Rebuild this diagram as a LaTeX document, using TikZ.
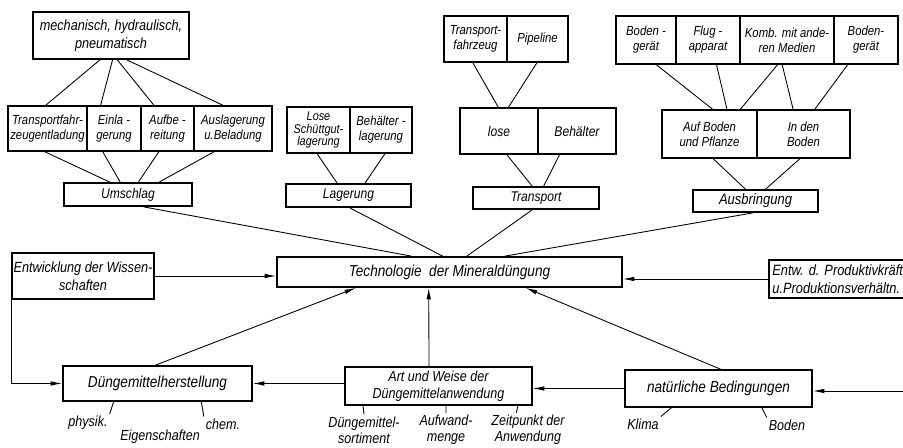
\documentclass[tikz,border=0pt]{standalone}
\usepackage{fontspec}
\setmainfont{Liberation Sans}[FakeStretch=0.86]
\usetikzlibrary{arrows.meta, calc}
\tikzset{every node/.append style={align=center}}

\begin{document}
\begin{tikzpicture}[x=0.02cm, y=-0.02cm,
  box/.style={draw, line width=1pt, inner sep=0pt,
              font=\itshape\fontsize{7.5}{8.6}\selectfont},
  sz/.style 2 args={minimum width=#1*0.02cm, minimum height=#2*0.02cm},
  mid/.style={font=\itshape\fontsize{8}{9.5}\selectfont},
  big/.style={font=\itshape\fontsize{9}{10.5}\selectfont},
  ln/.style={line width=0.5pt},
  arr/.style={ln, -{Latex[length=6.5pt,width=2.6pt]}},
  lbl/.style={inner sep=1pt, font=\itshape\fontsize{8.3}{9.3}\selectfont}]

\clip (0,0) rectangle (903,448);

% ── Umschlag ──────────────────────────────────────────────────────────────────
\node[box, sz={156}{47}, font=\itshape\fontsize{8.4}{10}\selectfont] (mech) at (111,35.5)
      {mechanisch, hydraulisch,\\pneumatisch};
\node[box, sz={79}{45}] (ta) at (47.5,128.5) {Transportfahr-\\zeugentladung};
\node[box, sz={54}{45}] (ei) at (114,128.5)  {Einla -\\gerung};
\node[box, sz={53}{45}] (au) at (167.5,128.5) {Aufbe -\\reitung};
\node[box, sz={78}{45}] (al) at (233,128.5)  {Auslagerung\\u.Beladung};
\node[box, mid, sz={128}{23}] (um) at (128,194.5) {Umschlag};

\foreach \a/\n/\b in {0.43/ta/0.48, 0.51/ei/0.26, 0.54/au/0.25, 0.60/al/0.37}
  \draw[ln] ($(mech.south west)!\a!(mech.south east)$)
            -- ($(\n.north west)!\b!(\n.north east)$);
\foreach \n/\a/\b in {ta/0.47/0.36, ei/0.30/0.44, au/0.34/0.58, al/0.26/0.74}
  \draw[ln] ($(\n.south west)!\a!(\n.south east)$)
            -- ($(um.north west)!\b!(um.north east)$);

% ── Lagerung ──────────────────────────────────────────────────────────────────
\node[box, sz={63}{46}, font=\itshape\fontsize{7.2}{7.2}\selectfont] (ls) at (318.5,130)
      {Lose\\Schüttgut-\\lagerung};
\node[box, sz={62}{46}] (bl) at (381,130) {Behälter -\\lagerung};
\node[box, mid, sz={125}{23}] (lg) at (348.5,195.5) {Lagerung};

\foreach \n/\a/\b in {ls/0.48/0.41, bl/0.56/0.63}
  \draw[ln] ($(\n.south west)!\a!(\n.south east)$)
            -- ($(lg.north west)!\b!(lg.north east)$);

% ── Transport ─────────────────────────────────────────────────────────────────
\node[box, sz={63}{46}] (tf) at (475.5,39) {Transport-\\fahrzeug};
\node[box, sz={61}{46}] (pl) at (537.5,39) {Pipeline};
\node[box, mid, sz={78}{46}] (lo) at (499,131) {lose};
\node[box, mid, sz={78}{46}] (be) at (577,131) {Behälter};
\node[box, mid, sz={126}{22}] (tr) at (536,198) {Transport};

\foreach \n/\a/\b in {tf/0.46/0.49, pl/0.49/0.62}
  \draw[ln] ($(\n.south west)!\a!(\n.south east)$)
            -- ($(lo.north west)!\b!(lo.north east)$);
\foreach \n/\a/\b in {lo/0.60/0.47, be/0.28/0.56}
  \draw[ln] ($(\n.south west)!\a!(\n.south east)$)
            -- ($(tr.north west)!\b!(tr.north east)$);

% ── Ausbringung ───────────────────────────────────────────────────────────────
\node[box, sz={60}{48}] (b1) at (646,40) {Boden -\\gerät};
\node[box, sz={64}{48}] (fa) at (708,40) {Flug -\\apparat};
\node[box, sz={94}{48}] (km) at (787,40) {Komb. mit ande-\\ren Medien};
\node[box, sz={64}{48}] (b2) at (866,40) {Boden-\\gerät};
\node[box, sz={95}{48}] (ab) at (709.5,134) {Auf Boden\\und Pflanze};
\node[box, sz={93}{48}] (id) at (803.5,134) {In den\\Boden};
\node[box, sz={125}{22}, font=\itshape\fontsize{8.6}{10}\selectfont] (ag) at (755.5,201)
      {Ausbringung};

\foreach \n/\a/\m/\b in {b1/0.67/ab/0.53, fa/0.63/ab/0.68, km/0.40/ab/0.82,
                         km/0.45/id/0.39, b2/0.22/id/0.62}
  \draw[ln] ($(\n.south west)!\a!(\n.south east)$)
            -- ($(\m.north west)!\b!(\m.north east)$);
\foreach \n/\a/\b in {ab/0.54/0.42, id/0.46/0.58}
  \draw[ln] ($(\n.south west)!\a!(\n.south east)$)
            -- ($(ag.north west)!\b!(ag.north east)$);

% ── Technologie (centre) ──────────────────────────────────────────────────────
\node[box, big, sz={345}{30}] (tech) at (449.5,272) {Technologie\ \ der Mineraldüngung};

\foreach \n/\a/\b in {um/0.62/0.39, lg/0.51/0.48, tr/0.47/0.55, ag/0.48/0.66}
  \draw[ln] ($(\n.south west)!\a!(\n.south east)$)
            -- ($(tech.north west)!\b!(tech.north east)$);

\node[box, sz={142}{46}, font=\itshape\fontsize{8.4}{10.5}\selectfont] (ent) at (83,276)
      {Entwicklung der Wissen-\\schaften};
\node[box, anchor=west, minimum height=38*0.02cm, text width=3.3cm,
      inner xsep=2pt, align=left, font=\itshape\fontsize{8.5}{10}\selectfont] (pk) at (768,279)
      {Entw.\ d.\ Produktivkräfte\\u.Produktionsverhältn.};

\draw[arr] (ent.east) -- (ent.east -| tech.west);
\draw[arr] (pk.west) -- (pk.west -| tech.east);

% ── bottom row ────────────────────────────────────────────────────────────────
\node[box, big, sz={189}{35}] (dh) at (157.5,383.5) {Düngemittelherstellung};
\node[box, sz={187}{38}, font=\itshape\fontsize{8.3}{9.5}\selectfont] (art) at (438.5,386)
      {Art und Weise der\\Düngemittelanwendung};
\node[box, big, sz={187}{37}] (nat) at (718.5,388.5) {natürliche Bedingungen};
\coordinate (rin) at (903,391);

\draw[arr] (ent.south west) |- (dh.west);
\draw[arr, {Latex[length=6.5pt,width=2.6pt]}-] (dh.east) -- (dh.east -| art.west);
\draw[arr] (nat.west) -- (nat.west -| art.east);
\draw[arr] (rin) -- (rin -| nat.east);

\foreach \n/\a/\b in {dh/0.49/0.23, art/0.45/0.44, nat/0.51/0.72}
  \draw[arr] ($(\n.north west)!\a!(\n.north east)$)
             -- ($(tech.south west)!\b!(tech.south east)$);

% sub labels
\node[lbl] (phy) at (88,423)  {physik.};
\node[lbl] (chm) at (223,424) {chem.};
\node[lbl] (eig) at (160,437) {Eigenschaften};
\node[lbl] (ds)  at (364,430) {Düngemittel-\\sortiment};
\node[lbl] (aw)  at (446,430) {Aufwand-\\menge};
\node[lbl] (zp)  at (528,430) {Zeitpunkt der\\Anwendung};
\node[lbl] (kl)  at (643,424) {Klima};
\node[lbl] (bo)  at (787,425) {Boden};

\draw[ln] ($(dh.south west)!0.27!(dh.south east)$) -- (phy.north east);
\draw[ln] ($(dh.south west)!0.73!(dh.south east)$) -- (chm.north west);
\draw[ln] ($(art.south west)!0.10!(art.south east)$) -- (ds.north);
\draw[ln] ($(art.south west)!0.54!(art.south east)$) -- (aw.north);
\draw[ln] ($(art.south west)!0.92!(art.south east)$) -- ($(zp.north west)!0.35!(zp.north east)$);
\draw[ln] ($(nat.south west)!0.25!(nat.south east)$) -- (kl.north east);
\draw[ln] ($(nat.south west)!0.73!(nat.south east)$) -- (bo.north west);

\end{tikzpicture}
\end{document}
